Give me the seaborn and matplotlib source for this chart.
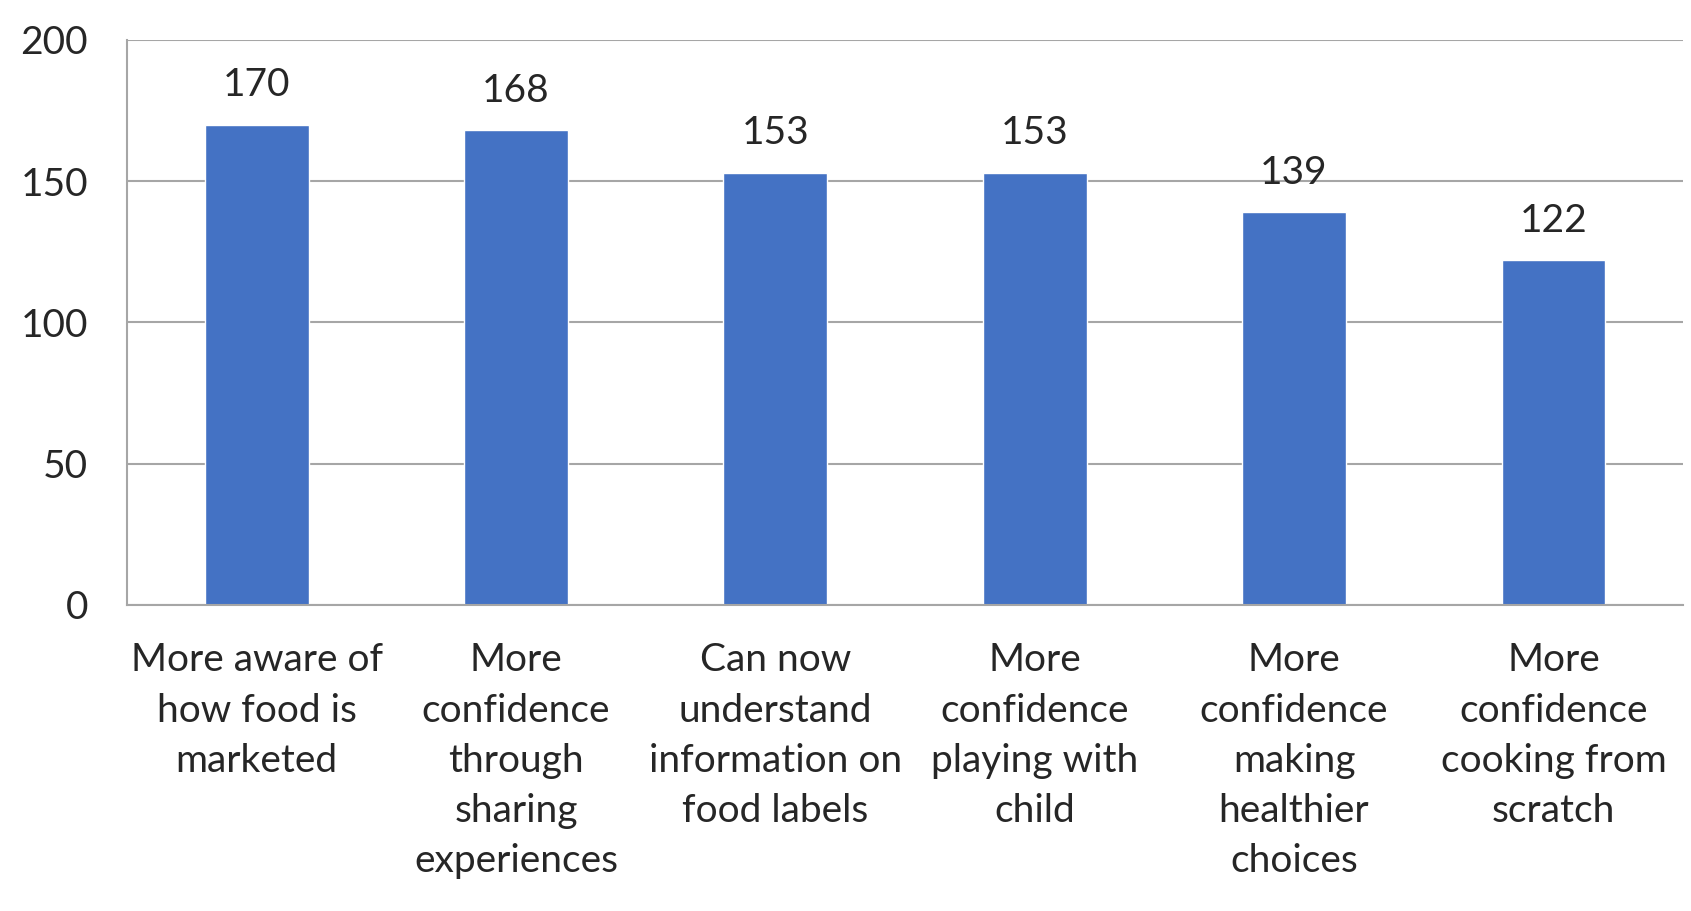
import matplotlib
matplotlib.use("Agg")
import matplotlib.pyplot as plt
import seaborn as sns
import pandas as pd

# Datos del gráfico
categories = [
    "More aware of\nhow food is\nmarketed",
    "More\nconfidence\nthrough\nsharing\nexperiences",
    "Can now\nunderstand\ninformation on\nfood labels",
    "More\nconfidence\nplaying with\nchild",
    "More\nconfidence\nmaking\nhealthier\nchoices",
    "More\nconfidence\ncooking from\nscratch",
]
counts = [170, 168, 153, 153, 139, 122]
y_ticks = [0, 50, 100, 150, 200]

df = pd.DataFrame({"Category": categories, "Count": counts})

sns.set_style("white")
plt.rcParams["font.family"] = ["Lato", "DejaVu Sans"]

fig = plt.figure(figsize=(16.91, 9.11), dpi=100)
ax = fig.add_axes([0.0751, 0.3359, 0.9202, 0.6202])

sns.barplot(data=df, x="Category", y="Count", color="#4472C4", width=0.4,
            saturation=1, ax=ax)

ax.set_ylim(0, 200)
ax.set_yticks(y_ticks)
ax.set_xlim(-0.5, len(categories) - 0.5)
ax.yaxis.grid(True, color="#A6A6A6", linewidth=1.5)
ax.set_axisbelow(True)
ax.set_xlabel("")
ax.set_ylabel("")

for side in ["top", "right"]:
    ax.spines[side].set_visible(False)
for side in ["left", "bottom"]:
    ax.spines[side].set_color("#A6A6A6")
    ax.spines[side].set_linewidth(1.5)

ax.tick_params(axis="y", length=0, pad=28, labelsize=28)
ax.tick_params(axis="x", length=0, pad=27, labelsize=28)
for lbl in ax.get_xticklabels():
    lbl.set_linespacing(1.49)

# Etiquetas de valores
for i, v in enumerate(counts):
    ax.text(i, v + 14, str(v), ha="center", va="center", fontsize=28)

plt.savefig("out.png", dpi=100)
plt.close()
